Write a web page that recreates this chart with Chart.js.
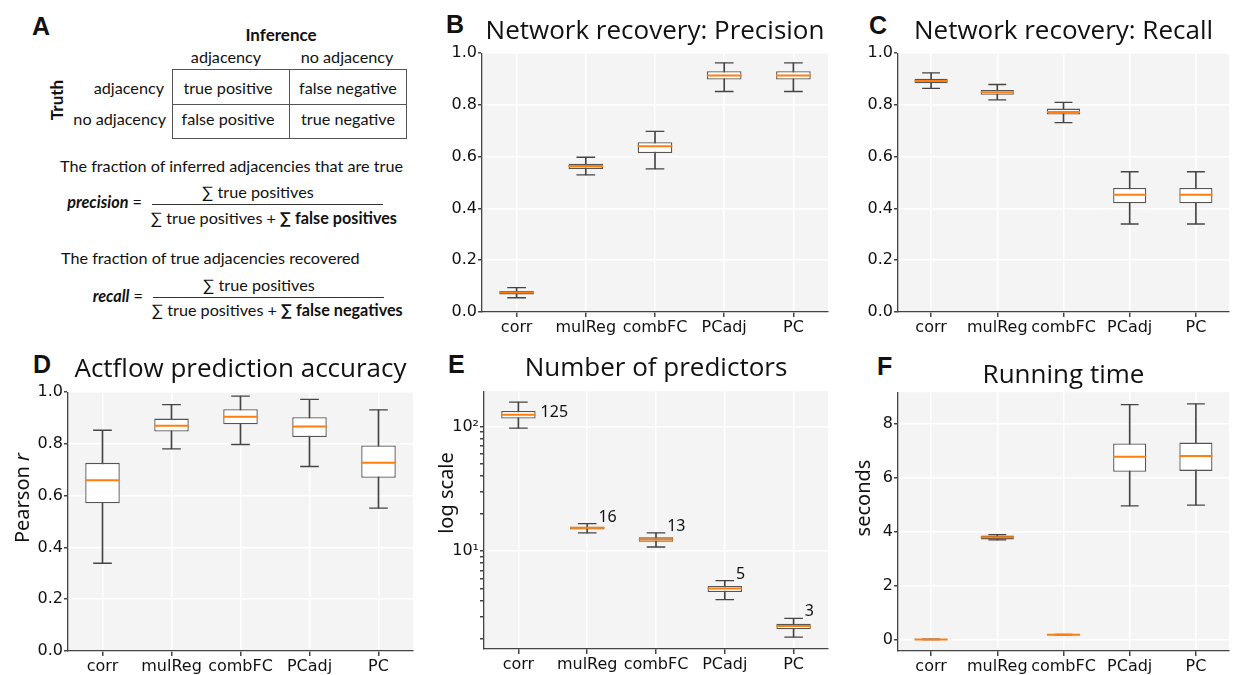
<!DOCTYPE html>
<html>
<head>
<meta charset="utf-8">
<script src="https://cdn.jsdelivr.net/npm/chart.js@4.4.0/dist/chart.umd.min.js"></script>
<style>
  body { margin: 0; background: #fff; }
  #fig { position: relative; width: 1241px; height: 675px; overflow: hidden; font-family: Lato, sans-serif; color: #111; }
  canvas { position: absolute; }
  .letter { position: absolute; font: bold 25px 'Liberation Sans', Arial, sans-serif; line-height: 25px; }
  .t { position: absolute; white-space: nowrap; font-size: 16.2px; line-height: 20px; }
  .c { transform: translate(-50%, -50%); }
  .r { transform: translate(-100%, -50%); }
  .l { transform: translate(0, -50%); }
  .hl { position: absolute; background: #333; height: 1px; }
  .cell { position: absolute; border: 1px solid #555; box-sizing: border-box; }
</style>
</head>
<body>
<div id="fig">
  <div class="letter" style="left:32px;top:14px">A</div>
  <div class="letter" style="left:446px;top:12px">B</div>
  <div class="letter" style="left:869px;top:13px">C</div>
  <div class="letter" style="left:33px;top:352px">D</div>
  <div class="letter" style="left:448px;top:352px">E</div>
  <div class="letter" style="left:877px;top:354px">F</div>

  <!-- panel A: confusion table and formulas -->
  <div class="t c" style="left:281px;top:35px;font-weight:bold;font-size:17px">Inference</div>
  <div class="t c" style="left:226px;top:57px">adjacency</div>
  <div class="t c" style="left:347px;top:57px">no adjacency</div>
  <div class="t c" style="left:57px;top:100px;font-weight:bold;font-size:17px;transform:translate(-50%,-50%) rotate(-90deg)">Truth</div>
  <div class="t r" style="left:164px;top:88px">adjacency</div>
  <div class="t r" style="left:166px;top:119px">no adjacency</div>
  <div class="cell" style="left:172px;top:69px;width:118px;height:36px"></div>
  <div class="cell" style="left:289px;top:69px;width:118px;height:36px"></div>
  <div class="cell" style="left:172px;top:104px;width:118px;height:35px"></div>
  <div class="cell" style="left:289px;top:104px;width:118px;height:35px"></div>
  <div class="t c" style="left:228px;top:88px">true positive</div>
  <div class="t c" style="left:348px;top:88px">false negative</div>
  <div class="t c" style="left:228px;top:119px">false positive</div>
  <div class="t c" style="left:348px;top:119px">true negative</div>

  <div class="t l" style="left:60px;top:166px">The fraction of inferred adjacencies that are true</div>
  <div class="t r" style="left:142px;top:202px"><b><i>precision</i></b> =</div>
  <div class="t c" style="left:258px;top:192px">∑ true positives</div>
  <div class="hl" style="left:152px;top:204px;width:231px"></div>
  <div class="t l" style="left:151px;top:218px">∑ true positives + <b>∑ false positives</b></div>

  <div class="t l" style="left:61px;top:258px">The fraction of true adjacencies recovered</div>
  <div class="t r" style="left:143px;top:296px"><b><i>recall</i></b> =</div>
  <div class="t c" style="left:259px;top:285px">∑ true positives</div>
  <div class="hl" style="left:153px;top:297px;width:231px"></div>
  <div class="t l" style="left:152px;top:310px">∑ true positives + <b>∑ false negatives</b></div>

  <canvas id="chartB" width="420" height="340" style="left:420px;top:0px"></canvas>
  <canvas id="chartC" width="401" height="340" style="left:840px;top:0px"></canvas>
  <canvas id="chartD" width="425" height="335" style="left:0px;top:340px"></canvas>
  <canvas id="chartE" width="420" height="335" style="left:420px;top:340px"></canvas>
  <canvas id="chartF" width="401" height="335" style="left:840px;top:340px"></canvas>
</div>

<script>
const methods = ['corr', 'mulReg', 'combFC', 'PCadj', 'PC'];

// B: precision (whisker low, q1, median, q3, whisker high)
const precLow = [0.055, 0.530, 0.553, 0.852, 0.852];
const precQ1 = [0.068, 0.553, 0.614, 0.898, 0.898];
const precMed = [0.075, 0.564, 0.640, 0.914, 0.914];
const precQ3 = [0.081, 0.573, 0.656, 0.930, 0.930];
const precHigh = [0.094, 0.598, 0.698, 0.963, 0.963];

// C: recall
const recLow = [0.864, 0.820, 0.732, 0.340, 0.340];
const recQ1 = [0.884, 0.839, 0.763, 0.420, 0.420];
const recMed = [0.893, 0.849, 0.773, 0.453, 0.453];
const recQ3 = [0.901, 0.858, 0.786, 0.479, 0.479];
const recHigh = [0.924, 0.879, 0.810, 0.542, 0.542];

// D: actflow prediction accuracy (Pearson r)
const accLow = [0.339, 0.781, 0.798, 0.713, 0.552];
const accQ1 = [0.571, 0.848, 0.876, 0.827, 0.669];
const accMed = [0.660, 0.870, 0.905, 0.867, 0.727];
const accQ3 = [0.727, 0.898, 0.934, 0.903, 0.794];
const accHigh = [0.853, 0.952, 0.985, 0.972, 0.932];

// E: number of predictors (log scale)
const predLow = [97, 14.0, 10.8, 4.08, 2.04];
const predQ1 = [116, 14.9, 11.9, 4.70, 2.36];
const predMed = [124, 15.4, 12.4, 5.02, 2.51];
const predQ3 = [133, 15.7, 12.9, 5.25, 2.62];
const predHigh = [157, 16.6, 14.0, 5.80, 2.89];
const predLabels = ['125', '16', '13', '5', '3'];

// F: running time (seconds)
const timeLow = [0.005, 3.70, 0.175, 4.96, 4.99];
const timeQ1 = [0.008, 3.72, 0.180, 6.23, 6.26];
const timeMed = [0.010, 3.80, 0.185, 6.79, 6.81];
const timeQ3 = [0.012, 3.86, 0.190, 7.28, 7.31];
const timeHigh = [0.015, 3.90, 0.195, 8.72, 8.75];

const unitTicks = [0, 0.2, 0.4, 0.6, 0.8, 1.0];
const timeTicks = [0, 2, 4, 6, 8];
const logTicks = [2, 3, 4, 5, 6, 7, 8, 9, 10, 20, 30, 40, 50, 60, 70, 80, 90, 100];

Chart.defaults.font.family = "'DejaVu Sans', sans-serif";
Chart.defaults.color = '#111';

// grey axes background
const panelBg = {
  id: 'panelBg',
  beforeDraw(chart) {
    const a = chart.chartArea, c = chart.ctx;
    c.save();
    c.fillStyle = '#f4f4f4';
    c.fillRect(a.left, a.top, a.right - a.left, a.bottom - a.top);
    c.restore();
  }
};

// rotated y label, optional italic tail (for "Pearson r")
const sideTitle = {
  id: 'sideTitle',
  afterDraw(chart, args, o) {
    if (!o.text) return;
    const c = chart.ctx;
    const f1 = "20px 'Noto Sans', sans-serif", f2 = "italic 20px 'Noto Sans', sans-serif";
    c.save();
    c.translate(o.x, o.y);
    c.rotate(-Math.PI / 2);
    c.fillStyle = '#111';
    c.textBaseline = 'alphabetic';
    c.font = f1;
    const w1 = c.measureText(o.text).width;
    c.font = f2;
    const w2 = o.italic ? c.measureText(o.italic).width : 0;
    const x0 = -(w1 + w2) / 2;
    c.font = f1;
    c.fillText(o.text, x0, 0);
    if (o.italic) {
      c.font = f2;
      c.fillText(o.italic, x0 + w1, 0);
    }
    c.restore();
  }
};

// count labels next to the boxes in panel E
const countText = {
  id: 'countText',
  afterDatasetsDraw(chart, args, o) {
    if (!o.labels) return;
    const xs = chart.scales.x, ys = chart.scales.y, c = chart.ctx;
    const a = chart.chartArea;
    const half = (a.right - a.left) / methods.length * 0.25;
    c.save();
    c.font = "16px 'Noto Sans', sans-serif";
    c.fillStyle = '#111';
    c.textAlign = 'left';
    o.labels.forEach((t, i) => {
      const px = xs.getPixelForValue(i);
      if (i === 0) {
        c.textBaseline = 'middle';
        c.fillText(t, px + half + 5, ys.getPixelForValue(o.med[i]) - 2);
      } else {
        c.textBaseline = 'alphabetic';
        c.fillText(t, px + half - 6, ys.getPixelForValue(o.high[i]) - 2);
      }
    });
    c.restore();
  }
};

Chart.register(panelBg, sideTitle, countText);

function half(ctx, f) {
  const a = ctx.chart.chartArea;
  return a ? (a.right - a.left) / methods.length * f : 10;
}

function boxChart(id, o) {
  return new Chart(document.getElementById(id), {
    data: {
      labels: methods,
      datasets: [
        { type: 'line', data: o.med, showLine: false, pointStyle: 'line',
          pointRadius: c => half(c, 0.25), pointBorderColor: '#ff7f0e', pointBorderWidth: 2, order: 1 },
        { type: 'line', data: o.low, showLine: false, pointStyle: 'line',
          pointRadius: c => half(c, 0.135), pointBorderColor: '#444', pointBorderWidth: 1.3, order: 2 },
        { type: 'line', data: o.high, showLine: false, pointStyle: 'line',
          pointRadius: c => half(c, 0.135), pointBorderColor: '#444', pointBorderWidth: 1.3, order: 2 },
        { type: 'bar', data: o.q1.map((v, i) => [v, o.q3[i]]), backgroundColor: '#fff',
          borderColor: '#555', borderWidth: 1.3, borderSkipped: false,
          barPercentage: 0.5, categoryPercentage: 1, grouped: false, order: 3 },
        { type: 'bar', data: o.low.map((v, i) => [v, o.high[i]]), backgroundColor: '#444',
          barThickness: 1, grouped: false, order: 4 }
      ]
    },
    options: {
      responsive: false,
      animation: false,
      events: [],
      layout: { padding: { left: 0, right: o.padRight, top: 0, bottom: 0 } },
      plugins: {
        legend: { display: false },
        tooltip: { enabled: false },
        title: {
          display: true, text: o.title, fullSize: false, color: '#111',
          font: { family: "'Open Sans', sans-serif", size: 26, weight: 'normal' },
          padding: { top: o.titleTop, bottom: o.titleBottom }
        },
        sideTitle: o.side || {},
        countText: o.counts || {}
      },
      scales: {
        x: {
          type: 'category', offset: true,
          grid: { color: '#fff', lineWidth: 1.5, offset: false, tickColor: '#444', tickLength: 5 },
          border: { color: '#444', width: 1.3 },
          ticks: { font: { size: 16 }, color: '#111', padding: 1, maxRotation: 0, autoSkip: false },
          afterFit(s) { s.height = o.xH; }
        },
        y: {
          type: o.log ? 'logarithmic' : 'linear',
          min: o.min, max: o.max,
          afterBuildTicks(s) { s.ticks = o.ticks.map(v => ({ value: v })); },
          afterFit(s) { s.width = o.yW; },
          grid: { color: o.gridColor || '#fff', lineWidth: 1.5, tickColor: '#444', tickLength: 4 },
          border: { color: '#444', width: 1.3 },
          ticks: { font: { size: 16 }, color: '#111', padding: 1, autoSkip: false, callback: o.fmt }
        }
      }
    }
  });
}

const oneDecimal = v => v.toFixed(1);

boxChart('chartB', {
  title: 'Network recovery: Precision', titleTop: 16, titleBottom: 6,
  low: precLow, q1: precQ1, med: precMed, q3: precQ3, high: precHigh,
  min: 0, max: 1, ticks: unitTicks, fmt: oneDecimal, yW: 62, xH: 28, padRight: 10
});

boxChart('chartC', {
  title: 'Network recovery: Recall', titleTop: 16, titleBottom: 6,
  low: recLow, q1: recQ1, med: recMed, q3: recQ3, high: recHigh,
  min: 0, max: 1, ticks: unitTicks, fmt: oneDecimal, yW: 58, xH: 28, padRight: 0
});

boxChart('chartD', {
  title: 'Actflow prediction accuracy', titleTop: 14, titleBottom: 7,
  low: accLow, q1: accQ1, med: accMed, q3: accQ3, high: accHigh,
  min: 0, max: 1, ticks: unitTicks, fmt: oneDecimal, yW: 68, xH: 24, padRight: 8,
  side: { text: 'Pearson ', italic: 'r', x: 29, y: 158 }
});

boxChart('chartE', {
  title: 'Number of predictors', titleTop: 13, titleBottom: 7,
  low: predLow, q1: predQ1, med: predMed, q3: predQ3, high: predHigh,
  log: true, min: 1.64, max: 192, ticks: logTicks,
  fmt: v => v === 10 ? '10¹' : v === 100 ? '10²' : '',
  gridColor: c => (c.tick && (c.tick.value === 10 || c.tick.value === 100)) ? '#fff' : 'rgba(0,0,0,0)',
  yW: 64, xH: 26, padRight: 9,
  side: { text: 'log scale', x: 33, y: 153 },
  counts: { labels: predLabels, med: predMed, high: predHigh }
});

boxChart('chartF', {
  title: 'Running time', titleTop: 20, titleBottom: 1,
  low: timeLow, q1: timeQ1, med: timeMed, q3: timeQ3, high: timeHigh,
  min: -0.42, max: 9.18, ticks: timeTicks, fmt: v => String(v), yW: 58, xH: 24, padRight: 0,
  side: { text: 'seconds', x: 30, y: 158 }
});
</script>
</body>
</html>
